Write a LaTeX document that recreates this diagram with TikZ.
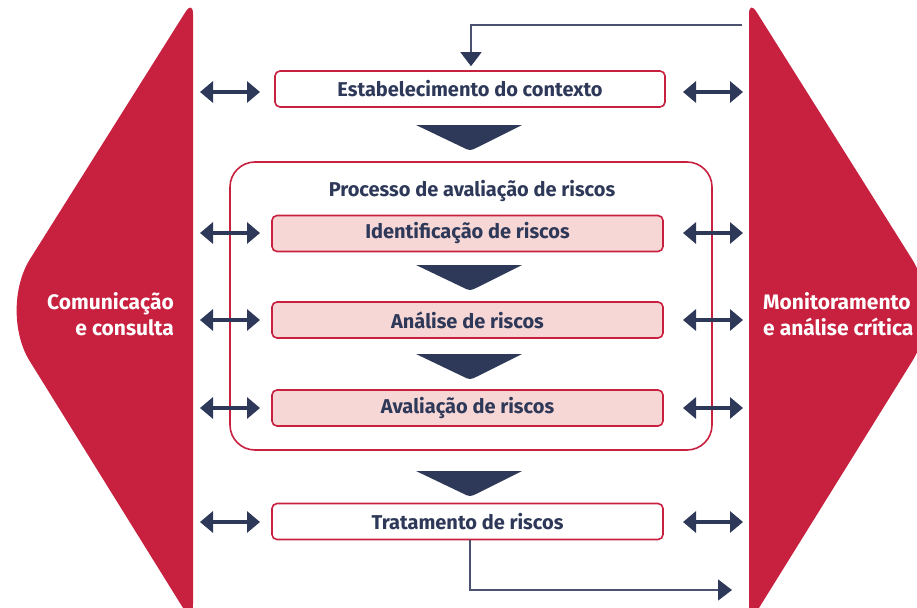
\documentclass[tikz,border=0pt]{standalone}
\usepackage{fontspec}
\setmainfont{Fira Sans}
\usetikzlibrary{arrows.meta}
\definecolor{cred}{HTML}{C8203F}
\definecolor{cnavy}{HTML}{2E3858}
\definecolor{cpink}{HTML}{F6D7D5}
\definecolor{cline}{HTML}{4A5270}
\tikzset{
  box/.style={draw=cred, line width=1.6pt, rounded corners=5pt, minimum width=391pt, minimum height=36pt, inner sep=0pt, font=\fontsize{20}{24}\selectfont\bfseries, text=cnavy},
  pinkbox/.style={box, fill=cpink},
  whitebox/.style={box, fill=white},
  dbl/.style={cnavy, line width=3.6pt, {Triangle[length=13pt,width=21pt]}-{Triangle[length=13pt,width=21pt]}},
  chev/.style={fill=cnavy},
  sidetext/.style={text=white, font=\fontsize{21}{26}\selectfont\bfseries, inner sep=0pt},
  flow/.style={cline, line width=1.4pt, -{Triangle[length=14pt,width=21pt,color=cnavy]}},
}
\begin{document}
\begin{tikzpicture}[x=1pt,y=-1pt]
\useasboundingbox (0,0) rectangle (917,607);
\clip (0,0) rectangle (917,607);
% side shapes
\fill[cred] (193,300) [rounded corners=20pt] -- (193,624) [rounded corners=60pt] -- (-2,310) [rounded corners=14pt] -- (193,0) [sharp corners] -- cycle;
\fill[cred] (749,300) [rounded corners=20pt] -- (749,624) [rounded corners=60pt] -- (944,310) [rounded corners=14pt] -- (749,0) [sharp corners] -- cycle;
\node[sidetext, align=right, anchor=east] (com) at (174,314) {Comunicação\\e consulta};
\node[sidetext, align=left, anchor=west] (mon) at (763,314) {Monitoramento\\e análise crítica};
% big box
\draw[cred, line width=1.6pt, rounded corners=25pt] (230,162) rectangle (712,450);
\node[font=\fontsize{20}{24}\selectfont\bfseries, text=cnavy, inner sep=0pt] (proc) at (472,191) {Processo de avaliação de riscos};
% boxes
\node[whitebox, minimum width=390pt] (ctx) at (470,89) {Estabelecimento do contexto};
\node[pinkbox] (ide) at (467.5,233.5) {Identificação de riscos};
\node[pinkbox] (ana) at (467.5,320) {Análise de riscos};
\node[pinkbox] (ava) at (467.5,408) {Avaliação de riscos};
\node[whitebox] (tra) at (467.5,521.5) {Tratamento de riscos};
% chevrons
\foreach \y in {125,265,354,471}{
  \fill[chev] (416,\y) -- (522,\y) -- (478,\y+22) .. controls (470,\y+26) .. (462,\y+22) -- cycle;
}
% double arrows
\foreach \n/\y in {a/92,b/233,c/320,d/408,e/522}{
  \coordinate (l\n1) at (200,\y); \coordinate (l\n2) at (260,\y);
  \coordinate (r\n1) at (683,\y); \coordinate (r\n2) at (743,\y);
  \draw[dbl] (l\n1) -- (l\n2);
  \draw[dbl] (r\n1) -- (r\n2);
}
% feedback
\coordinate (fbs) at (742,25);
\draw[flow, shorten >=4pt] (fbs) -- (471,25) -- (ctx.north -| 471,0);
\coordinate (fbe) at (732,590);
\draw[flow] (tra.south -| 470,0) -- (470,590) -- (fbe);
\end{tikzpicture}
\end{document}
